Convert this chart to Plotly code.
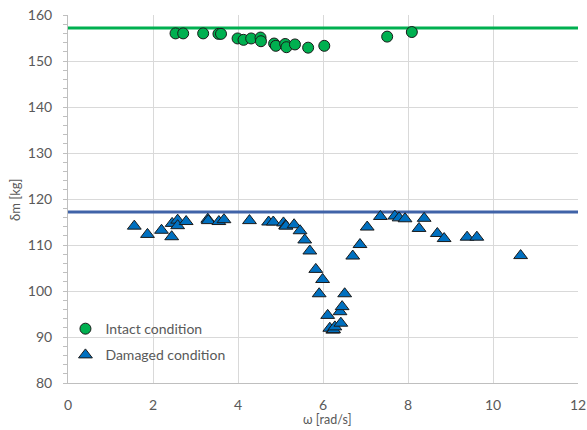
import plotly.graph_objects as go

# Intact condition (green circles)
intact_w = [2.53, 2.71, 3.18, 3.54, 3.60, 3.99, 4.13, 4.31, 4.53, 4.54, 4.85, 4.89,
            5.11, 5.14, 5.34, 5.65, 6.03, 7.51, 8.09]
intact_m = [156.0, 156.0, 156.0, 155.9, 155.9, 154.9, 154.6, 154.9, 155.1, 154.3, 153.8, 153.3,
            153.7, 153.0, 153.6, 152.9, 153.3, 155.3, 156.3]

# Damaged condition (blue triangles)
damaged_w = [1.56, 1.87, 2.20, 2.44, 2.45, 2.58, 2.58, 2.78, 3.29, 3.30, 3.55, 3.67,
             4.27, 4.72, 4.83, 5.07, 5.12, 5.13, 5.32, 5.46, 5.57, 5.69, 5.83, 5.91,
             5.99, 6.11, 6.16, 6.23, 6.25, 6.28, 6.40, 6.42, 6.45, 6.51, 6.70, 6.87,
             7.04, 7.35, 7.69, 7.79, 7.93, 8.26, 8.38, 8.69, 8.85, 9.39, 9.62, 10.65]
damaged_m = [114.1, 112.3, 113.2, 111.8, 114.7, 115.4, 114.2, 115.1, 115.6, 115.3, 115.1, 115.5,
             115.3, 115.0, 115.0, 114.8, 114.2, 114.1, 114.4, 113.1, 111.1, 108.7, 104.7, 99.4,
             102.5, 94.7, 91.9, 91.5, 91.6, 92.2, 95.5, 93.0, 96.6, 99.4, 107.6, 110.1,
             113.9, 116.2, 116.3, 115.9, 115.7, 113.6, 115.8, 112.5, 111.4, 111.7, 111.7, 107.7]

# Reference levels
x_span = [0, 12]
intact_level = 157.2
damaged_level = 117.2

x_ticks = [0, 2, 4, 6, 8, 10, 12]
y_ticks = [80, 90, 100, 110, 120, 130, 140, 150, 160]

FONT = "Lato"
GRAY = "#595959"

fig = go.Figure()
fig.add_trace(go.Scatter(x=x_span, y=[intact_level] * 2, mode="lines",
                         line=dict(color="#00b050", width=3), showlegend=False, hoverinfo="skip"))
fig.add_trace(go.Scatter(x=x_span, y=[damaged_level] * 2, mode="lines",
                         line=dict(color="#4063a8", width=3), showlegend=False, hoverinfo="skip"))
fig.add_trace(go.Scatter(x=intact_w, y=intact_m, mode="markers", name="Intact condition",
                         legendgroup="a",
                         marker=dict(symbol="circle", size=11, color="#00b050",
                                     line=dict(color="#1a1a1a", width=1))))
fig.add_trace(go.Scatter(x=damaged_w, y=damaged_m, mode="markers", name="Damaged condition",
                         legendgroup="b",
                         marker=dict(symbol="triangle-up", size=12, color="#0070c0",
                                     line=dict(color="#1a1a1a", width=1))))

fig.update_layout(
    width=587, height=430,
    margin=dict(l=68, r=9, t=15, b=47),
    paper_bgcolor="white", plot_bgcolor="white",
    font=dict(family=FONT, size=13, color=GRAY),
    legend=dict(x=-0.005, y=0.19, xanchor="left", yanchor="top",
                bgcolor="rgba(0,0,0,0)", font=dict(size=14, color=GRAY),
                traceorder="grouped", tracegroupgap=5, itemwidth=30),
    xaxis=dict(range=[0, 12], tickvals=x_ticks, showgrid=True, gridcolor="#d9d9d9",
               gridwidth=1, zeroline=False, showline=True, linecolor="#bfbfbf",
               ticks="outside", ticklen=9, tickcolor="rgba(0,0,0,0)",
               tickfont=dict(size=14, color=GRAY), automargin=False,
               ticklabeloverflow="allow"),
    yaxis=dict(range=[80, 160], tickvals=y_ticks, showgrid=True, gridcolor="#d9d9d9",
               gridwidth=1, zeroline=False, showline=True, linecolor="#bfbfbf",
               ticks="outside", ticklen=4, tickcolor="#bfbfbf", automargin=False,
               minor=dict(dtick=2, ticks="outside", ticklen=4, tickcolor="#bfbfbf", showgrid=False),
               tickfont=dict(size=14, color=GRAY), ticklabelstandoff=8,
               ticklabeloverflow="allow"),
    annotations=[
        dict(text="ω [rad/s]", xref="paper", yref="paper", x=0.508, y=-0.1,
             xanchor="center", yanchor="middle", showarrow=False,
             font=dict(size=12.5, color=GRAY)),
        dict(text="δm [kg]", xref="paper", yref="paper", x=-0.104, y=0.5,
             xanchor="center", yanchor="middle", showarrow=False, textangle=-90,
             font=dict(size=13, color=GRAY)),
    ],
)

fig.write_html(
    "out.html",
    config=dict(displayModeBar=False),
    post_script="document.body.style.margin='0';"
                "document.documentElement.style.overflow='hidden';",
)
